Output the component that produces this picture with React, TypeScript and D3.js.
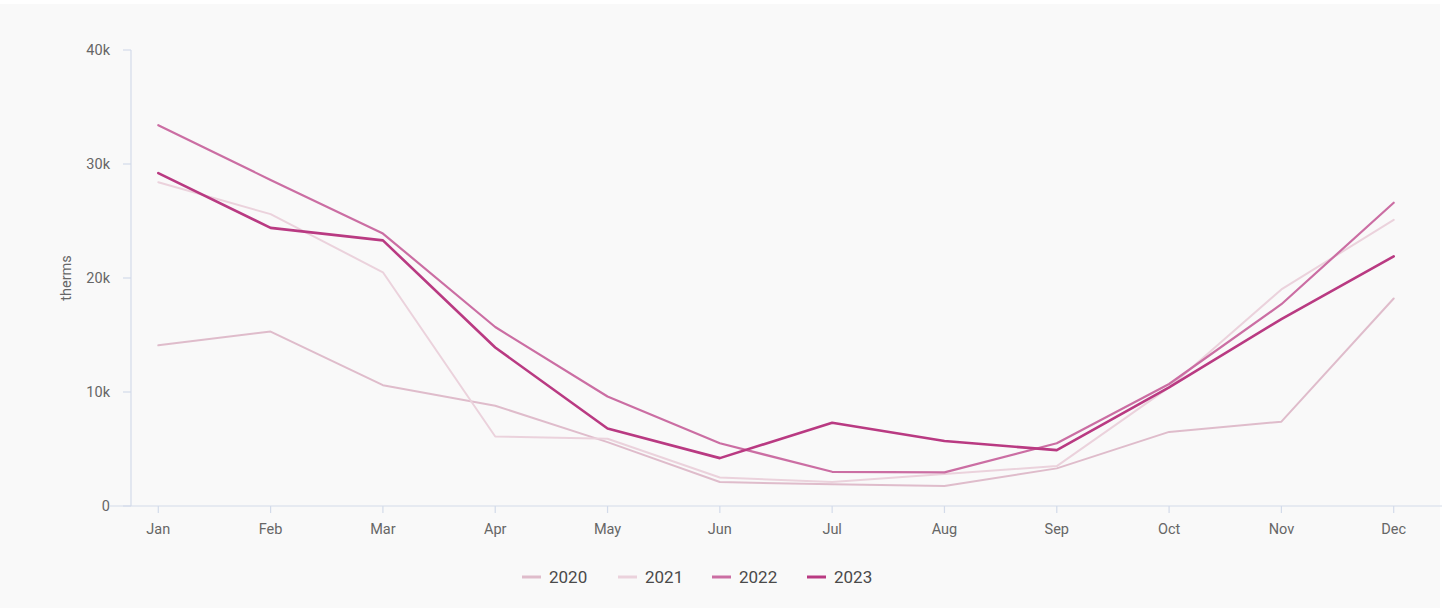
import React from "react";
import * as d3 from "d3";

const months = ["Jan", "Feb", "Mar", "Apr", "May", "Jun", "Jul", "Aug", "Sep", "Oct", "Nov", "Dec"];
const years = ["2020", "2021", "2022", "2023"];
const v2020 = [14.1, 15.3, 10.6, 8.8, 5.6, 2.1, 1.9, 1.75, 3.3, 6.5, 7.4, 18.2];
const v2021 = [28.4, 25.6, 20.5, 6.1, 5.9, 2.5, 2.1, 2.8, 3.5, 10.4, 19.0, 25.1];
const v2022 = [33.4, 28.6, 23.9, 15.7, 9.6, 5.5, 3.0, 2.95, 5.5, 10.7, 17.7, 26.6];
const v2023 = [29.2, 24.4, 23.3, 13.9, 6.8, 4.2, 7.3, 5.7, 4.9, 10.4, 16.4, 21.9];
const yTicks = [0, 10, 20, 30, 40];

const seriesValues = [v2020, v2021, v2022, v2023];
const colors = ["#dfbccb", "#ebd2dc", "#cb6ea3", "#b93a82"];
const widths = [2, 2, 2.2, 2.6];

export default function App() {
  const W = 1445, H = 613;
  const x = d3.scalePoint<string>().domain(months).range([110, 1442]).padding(0.43);
  const y = d3.scaleLinear().domain([0, 40]).range([506, 50]);
  const line = d3
    .line<number>()
    .x((_, i) => x(months[i]) as number)
    .y((d) => y(d));
  const axisColor = "#d3dbea";
  const font = "Roboto, 'Noto Sans', sans-serif";
  const legendX = [522, 618, 712, 807];
  return (
    <svg width={W} height={H} style={{ position: "absolute", left: 0, top: 0, fontFamily: font }}>
      <rect x={0} y={0} width={W} height={H} fill="#ffffff" />
      <rect x={0} y={4} width={1440} height={604} fill="#f9f9f9" />
      {/* y axis */}
      <line x1={131} x2={131} y1={50} y2={506} stroke={axisColor} strokeWidth={1.2} />
      {yTicks.map((t) => (
        <g key={t}>
          <line x1={123} x2={131} y1={y(t)} y2={y(t)} stroke={axisColor} strokeWidth={1.2} />
          <text x={110} y={y(t)} dy="0.35em" textAnchor="end" fontSize={14.5} fill="#666">
            {t === 0 ? "0" : `${t}k`}
          </text>
        </g>
      ))}
      <text
        transform={`translate(66,${(y(0) + y(40)) / 2}) rotate(-90)`}
        textAnchor="middle"
        dy="0.35em"
        fontSize={14.5}
        fill="#666"
      >
        therms
      </text>
      {/* x axis */}
      <line x1={110} x2={1442} y1={506} y2={506} stroke={axisColor} strokeWidth={1.2} />
      {months.map((m) => (
        <g key={m}>
          <line x1={x(m)} x2={x(m)} y1={506} y2={513} stroke={axisColor} strokeWidth={1.2} />
          <text x={x(m)} y={529} dy="0.35em" textAnchor="middle" fontSize={14.5} fill="#666">
            {m}
          </text>
        </g>
      ))}
      {/* lines */}
      {seriesValues.map((vals, i) => (
        <path
          key={years[i]}
          d={line(vals) || ""}
          fill="none"
          stroke={colors[i]}
          strokeWidth={widths[i]}
          strokeLinejoin="round"
          strokeLinecap="round"
        />
      ))}
      {/* legend */}
      {years.map((yr, i) => (
        <g key={yr}>
          <line x1={legendX[i]} x2={legendX[i] + 19} y1={577} y2={577} stroke={colors[i]} strokeWidth={3} />
          <text x={legendX[i] + 27} y={577} dy="0.35em" fontSize={17} fill="#4a4a4a">
            {yr}
          </text>
        </g>
      ))}
    </svg>
  );
}
